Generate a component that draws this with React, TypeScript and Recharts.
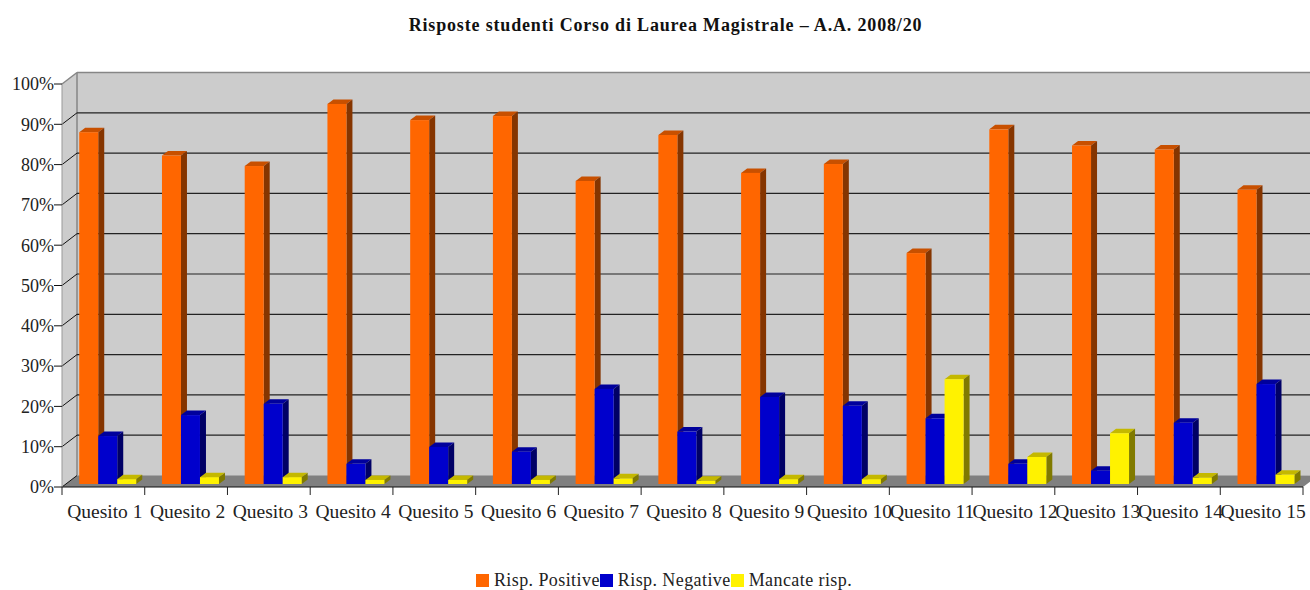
import { BarChart, Bar, XAxis, YAxis, CartesianGrid, Legend } from 'recharts';

const categories = ['Quesito 1', 'Quesito 2', 'Quesito 3', 'Quesito 4', 'Quesito 5', 'Quesito 6', 'Quesito 7', 'Quesito 8', 'Quesito 9', 'Quesito 10', 'Quesito 11', 'Quesito 12', 'Quesito 13', 'Quesito 14', 'Quesito 15'];
const positive = [87.3, 81.5, 78.9, 94.3, 90.3, 91.3, 75.2, 86.6, 77.2, 79.4, 57.3, 88, 84, 83, 73];
const negative = [11.9, 17.1, 19.9, 5, 9.2, 8, 23.6, 13, 21.6, 19.4, 16.3, 5, 3.3, 15.2, 24.8];
const missing = [1.2, 1.7, 1.7, 1, 1, 1, 1.4, 0.8, 1.2, 1.2, 26, 6.7, 12.6, 1.6, 2.3];
const yTicks = [0, 10, 20, 30, 40, 50, 60, 70, 80, 90, 100];

const data = categories.map((name, i) => ({
    name,
    positive: positive[i],
    negative: negative[i],
    missing: missing[i],
}));

const SERIF = '"Liberation Serif", serif';
const DEPTH_X = 15;
const DEPTH_Y = 11.5;
const CAT_W = 1241 / 15;

const faces: Record<string, { top: string; side: string }> = {
    '#ff6600': { top: '#c85000', side: '#853500' },
    '#0000cc': { top: '#00009c', side: '#000066' },
    '#fff200': { top: '#c4b800', side: '#807a00' },
};

// front face plus the top and right faces of the fake 3D box
function Bar3D({ x, y, width, height, fill }: any) {
    const dx = 6;
    const dy = 4.5;
    const left = x + 4;
    const top = y - 3;
    const right = left + width;
    const bottom = top + height;
    return (
        <g>
            <polygon points={`${left},${top} ${left + dx},${top - dy} ${right + dx},${top - dy} ${right},${top}`} fill={faces[fill].top} />
            <polygon points={`${right},${top} ${right + dx},${top - dy} ${right + dx},${bottom - dy} ${right},${bottom}`} fill={faces[fill].side} />
            <rect x={left} y={top} width={width} height={height} fill={fill} />
        </g>
    );
}

function Walls({ x1, x2, y1 }: any) {
    const bottom = y1 + 403;
    return (
        <g key="walls">
            <polygon points={`${x1},${y1} ${x1 + DEPTH_X},${y1 - DEPTH_Y} ${x2 + DEPTH_X},${y1 - DEPTH_Y} ${x2 + DEPTH_X},${bottom - DEPTH_Y} ${x1},${bottom}`} fill="#cccccc" />
            <polygon points={`${x1},${bottom} ${x1 + DEPTH_X},${bottom - DEPTH_Y} ${x2 + DEPTH_X},${bottom - DEPTH_Y} ${x2},${bottom}`} fill="#808080" />
            <line x1={x1 + DEPTH_X} x2={x1 + DEPTH_X} y1={y1 - DEPTH_Y} y2={bottom - DEPTH_Y} stroke="#868686" strokeWidth={1.5} />
            <line x1={x1} x2={x1 + DEPTH_X} y1={y1} y2={y1 - DEPTH_Y} stroke="#868686" strokeWidth={1.5} />
            <line x1={x1 + DEPTH_X} x2={x2 + DEPTH_X} y1={y1 - DEPTH_Y} y2={y1 - DEPTH_Y} stroke="#868686" strokeWidth={1.5} />
        </g>
    );
}

function GridLine({ x1, x2, y1, index }: any) {
    const edge = y1 < 90 || y1 > 480;
    return (
        <g key={`line-${index}`}>
            {!edge && <line x1={x1 + DEPTH_X} x2={x2 + DEPTH_X} y1={y1 - DEPTH_Y} y2={y1 - DEPTH_Y} stroke="#222" strokeWidth={1.2} />}
            {y1 < 90 ? null : <line x1={x1} x2={x1 + DEPTH_X} y1={y1} y2={y1 - DEPTH_Y} stroke="#111" />}
        </g>
    );
}

function CategoryTick({ x, y, payload, index }: any) {
    const left = x - CAT_W / 2;
    return (
        <g>
            <line x1={left} x2={left} y1={y - 8} y2={y} stroke="#222" />
            {index === categories.length - 1 && (
                <line x1={left + CAT_W} x2={left + CAT_W} y1={y - 8} y2={y} stroke="#222" />
            )}
            <text x={x + 1.5} y={y + 23} textAnchor="middle" fontFamily={SERIF} fontSize={19.5} fill="#222">
                {payload.value}
            </text>
        </g>
    );
}

function LegendRow({ payload }: any) {
    return (
        <div style={{ display: 'flex', justifyContent: 'center', alignItems: 'flex-end', height: 30, fontFamily: SERIF, fontSize: 18, letterSpacing: 0.42, lineHeight: '20px', color: '#222', paddingLeft: 18, boxSizing: 'border-box' }}>
            {payload.map((item: any) => (
                <span key={item.value} style={{ display: 'flex', alignItems: 'center', whiteSpace: 'nowrap' }}>
                    <span style={{ width: 13, height: 13, background: item.color, marginRight: 4.5, marginLeft: 0.5 }} />
                    {item.value}
                </span>
            ))}
        </div>
    );
}

export default function App() {
    return (
        <div style={{ position: 'absolute', left: 0, top: 0, width: 1310, height: 590, overflow: 'hidden', background: '#fff' }}>
            <div style={{ position: 'absolute', top: 15, left: 0, width: 1331, textAlign: 'center', fontFamily: SERIF, fontWeight: 'bold', fontSize: 18, letterSpacing: 0.83, color: '#111', zIndex: 2 }}>
                Risposte studenti Corso di Laurea Magistrale – A.A. 2008/20
            </div>
            <BarChart
                width={1310}
                height={590}
                data={data}
                margin={{ top: 84, right: 7, left: 0, bottom: 23 }}
                barCategoryGap="16%"
                barGap={0}
            >
                <CartesianGrid vertical={false} horizontalValues={[100]} horizontal={(props: any) => <Walls {...props} />} />
                <CartesianGrid vertical={false} horizontal={(props: any) => <GridLine {...props} />} />
                <XAxis dataKey="name" height={50} interval={0} axisLine={{ stroke: '#111' }} tickLine={false} tick={<CategoryTick />} />
                <YAxis
                    width={62}
                    domain={[0, 100]}
                    ticks={yTicks}
                    interval={0}
                    tickFormatter={(v: number) => `${v}%`}
                    axisLine={{ stroke: '#999' }}
                    tickLine={{ stroke: '#111' }}
                    tickSize={8}
                    tickMargin={0}
                    tick={{ fontFamily: SERIF, fontSize: 18, fill: '#222' }}
                />
                <Legend verticalAlign="bottom" height={30} itemSorter={null} content={<LegendRow />} wrapperStyle={{ bottom: 0, left: 0, width: 1310 }} />
                <Bar dataKey="positive" name="Risp. Positive" fill="#ff6600" shape={<Bar3D />} isAnimationActive={false} />
                <Bar dataKey="negative" name="Risp. Negative" fill="#0000cc" shape={<Bar3D />} isAnimationActive={false} />
                <Bar dataKey="missing" name="Mancate risp." fill="#fff200" shape={<Bar3D />} isAnimationActive={false} />
            </BarChart>
        </div>
    );
}
